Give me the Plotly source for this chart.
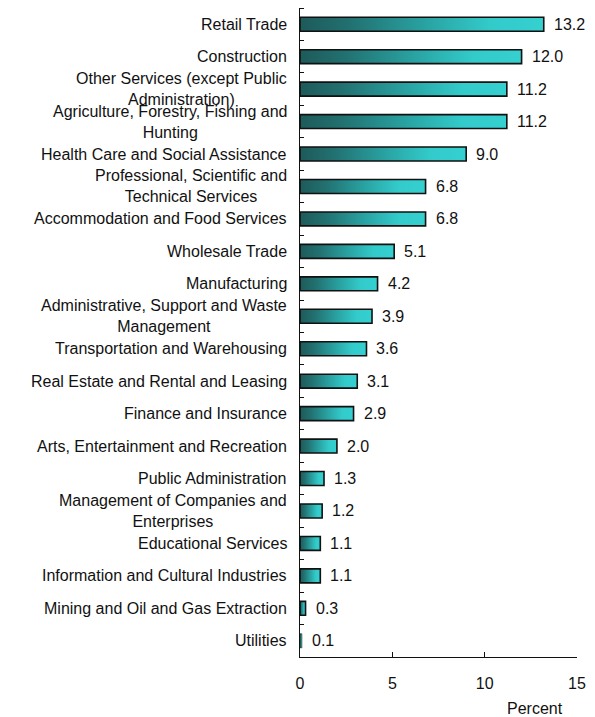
import plotly.graph_objects as go

categories = [
    "Retail Trade",
    "Construction",
    "Other Services (except Public<br>Administration)",
    "Agriculture, Forestry, Fishing and<br>Hunting",
    "Health Care and Social Assistance",
    "Professional, Scientific and<br>Technical Services",
    "Accommodation and Food Services",
    "Wholesale Trade",
    "Manufacturing",
    "Administrative, Support and Waste<br>Management",
    "Transportation and Warehousing",
    "Real Estate and Rental and Leasing",
    "Finance and Insurance",
    "Arts, Entertainment and Recreation",
    "Public Administration",
    "Management of Companies and<br>Enterprises",
    "Educational Services",
    "Information and Cultural Industries",
    "Mining and Oil and Gas Extraction",
    "Utilities",
]
values = [13.2, 12.0, 11.2, 11.2, 9.0, 6.8, 6.8, 5.1, 4.2, 3.9, 3.6, 3.1, 2.9, 2.0, 1.3, 1.2, 1.1, 1.1, 0.3, 0.1]
x_ticks = [0, 5, 10, 15]

FONT = "Liberation Sans, Arial, sans-serif"
grad = [[0, "#1e5a5a"], [0.2, "#227070"], [0.5, "#29a0a0"], [0.78, "#33caca"], [1, "#35d0d0"]]
half = 0.215

fig = go.Figure()
for i, (c, v) in enumerate(zip(categories, values)):
    fig.add_trace(go.Scatter(
        x=[0, v, v, 0, 0],
        y=[i - half, i - half, i + half, i + half, i - half],
        mode="lines",
        fill="toself",
        fillgradient=dict(type="horizontal", colorscale=grad),
        line=dict(color="#111111", width=1.6 if v >= 0.3 else 0.6),
        hoverinfo="skip",
        showlegend=False,
    ))

annotations = []
for i, (c, v) in enumerate(zip(categories, values)):
    annotations.append(dict(
        x=v, y=i, xref="x", yref="y", text=f"{v:.1f}", showarrow=False,
        xanchor="left", yanchor="middle", xshift=8,
        font=dict(family=FONT, size=16, color="#111111"),
    ))
    annotations.append(dict(
        x=0, y=i, xref="paper", yref="y", text=c, showarrow=False,
        xanchor="right", yanchor="middle", xshift=-11, align="center",
        font=dict(family=FONT, size=16, color="#111111"),
    ))
annotations.append(dict(
    x=0.85, y=-0.08, xref="paper", yref="paper", text="Percent", showarrow=False,
    xanchor="center", yanchor="middle",
    font=dict(family=FONT, size=16, color="#111111"),
))

fig.update_layout(
    width=595, height=717,
    margin=dict(l=300, r=18, t=8, b=60, autoexpand=False),
    paper_bgcolor="white", plot_bgcolor="white",
    annotations=annotations,
    xaxis=dict(
        range=[0, 15], tickvals=x_ticks, ticks="inside", ticklen=5, tickcolor="#111111",
        showline=True, linecolor="#111111", linewidth=1, showgrid=False, zeroline=False,
        tickfont=dict(family=FONT, size=16, color="#111111"), ticklabelstandoff=12,
        automargin=False,
    ),
    yaxis=dict(
        range=[len(categories) - 0.5, -0.5], showticklabels=False, ticks="",
        showline=True, linecolor="#111111", linewidth=1, showgrid=False, zeroline=False,
        automargin=False,
        minor=dict(tickvals=[k - 0.5 for k in range(len(categories) + 1)], ticks="inside",
                   ticklen=4, tickcolor="#111111", showgrid=False),
    ),
)

fig.write_html(
    "out.html",
    config={"displayModeBar": False},
    post_script="document.body.style.margin='0';document.body.style.overflow='hidden';",
)
